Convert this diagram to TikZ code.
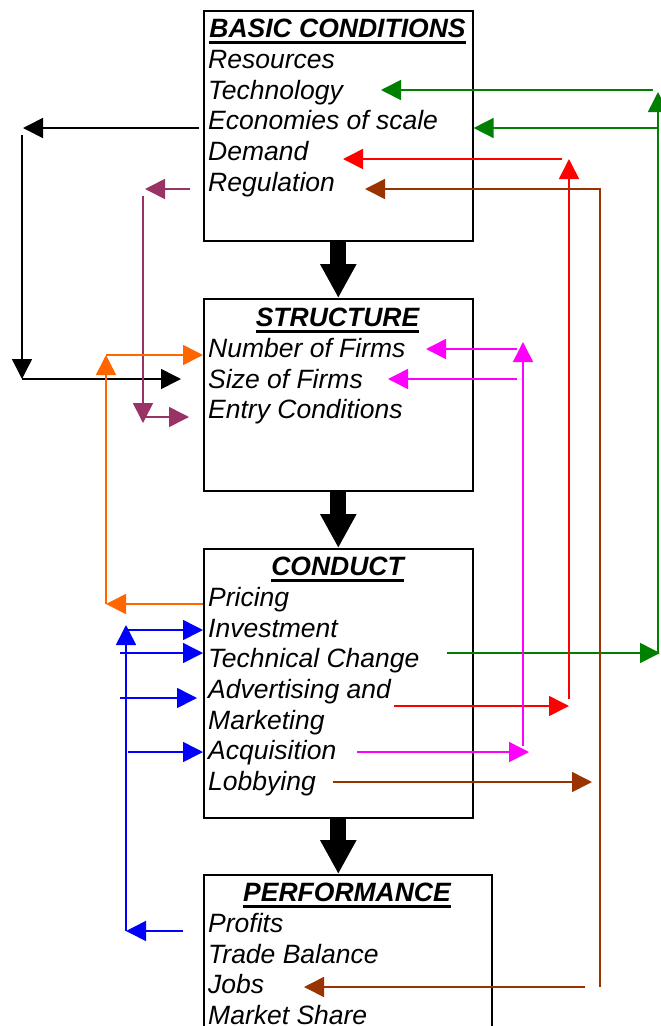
\documentclass[tikz,border=0pt]{standalone}
\usepackage{fontspec}
\setmainfont{Liberation Sans}
\usetikzlibrary{arrows.meta,positioning}
\definecolor{cgreen}{HTML}{008000}
\definecolor{cred}{HTML}{FF0000}
\definecolor{cbrown}{HTML}{993300}
\definecolor{cmagenta}{HTML}{FF00FF}
\definecolor{cblue}{HTML}{0000FF}
\definecolor{corange}{HTML}{FF6600}
\definecolor{cplum}{HTML}{993366}
\tikzset{
  box/.style={draw,line width=1.6pt,anchor=north west,inner sep=0pt},
  head/.style={anchor=base,inner sep=0pt,font=\bfseries\itshape\fontsize{26.5}{30.7}\selectfont},
  item/.style={anchor=base west,inner sep=0pt,font=\itshape\fontsize{26.5}{30.7}\selectfont},
  link/.style={line width=1.6pt,-{Triangle[length=20pt,width=20pt]}},
  flow/.style={line width=16pt,-{Triangle[length=34pt,width=34pt]}}
}
\newcommand{\boxhead}[3]{\node[head] (#1) at (#2) {#3};
  \draw[line width=2.5pt] ([yshift=-5pt]#1.base west) -- ([yshift=-5pt]#1.base east);}

\begin{document}
\begin{tikzpicture}[x=1pt,y=-1pt]
  \useasboundingbox (0,0) rectangle (661,1026);
  \clip (0,0) rectangle (661,1026);
  % boxes
  \node[box,minimum width=269pt,minimum height=230pt] (basic) at (203,10) {};
  \node[box,minimum width=269pt,minimum height=192pt] (structure) at (203,298) {};
  \node[box,minimum width=269pt,minimum height=269pt] (conduct) at (203,548) {};
  \node[box,minimum width=288pt,minimum height=170pt] (perf) at (203,874) {};
  \draw[flow] (basic.south) -- (structure.north);
  \draw[flow] (structure.south) -- (conduct.north);
  \draw[flow] (conduct.south) -- (conduct.south |- perf.north);
  % texts
  \boxhead{bchead}{337.5,37.7}{BASIC CONDITIONS}
  \foreach \t [count=\i] in {Resources,Technology,Economies of scale,Demand,Regulation}
    \node[item] (bc\i) at (208,{37.7+30.7*\i}) {\t};
  \boxhead{sthead}{337.5,326.7}{STRUCTURE}
  \foreach \t [count=\i] in {Number of Firms,Size of Firms,Entry Conditions}
    \node[item] (st\i) at (208,{326.7+30.7*\i}) {\t};
  \boxhead{cdhead}{337.5,575.7}{CONDUCT}
  \foreach \t [count=\i] in {Pricing,Investment,Technical Change,Advertising and,Marketing,Acquisition,Lobbying}
    \node[item] (cd\i) at (208,{575.7+30.7*\i}) {\t};
  \boxhead{pfhead}{347,901.7}{PERFORMANCE}
  \foreach \t [count=\i] in {Profits,Trade Balance,Jobs,Market Share}
    \node[item] (pf\i) at (208,{901.7+30.7*\i}) {\t};
  % arrow ends
  \foreach \n/\x/\y in {ka/199/128,kb/23/128,kc/22/135,kd/22/379,ke/181/379,
      pa/190/189,pb/145/189,pc/143/196,pd/143/423,pe/145/417,pf/189/417,
      oa/106/604,ob/106/355,
      ba/183/931,bb/126/931,bc/126/625,bd/128/630,be/120/653,bf/120/698,bg/197/698,bh/128/752,
      ga/447/653,gb/660/653,gc/658/653,gd/658/92,ge/653/90,gf/381/90,gg/659/128,
      ra/394/706,rb/569/706,rc/569/699,rd/569/159,re/562/159,rf/343/159,
      wa/333/782,wb/592/782,wc/600/987,wd/365/189,we/585/987,wf/304/987,
      ma/357/752,mb/529/752,mc/523/746,md/523/342,me/517/349,mf/426/349,mg/517/379,mh/388/379}
    \coordinate (\n) at (\x,\y);
  % feedback arrows
  \draw[link] (ka) -- (kb);
  \draw[link] (kc) -- (kd);
  \draw[link] (kd) -- (ke);
  \draw[link,cplum] (pa) -- (pb);
  \draw[link,cplum] (pc) -- (pd);
  \draw[link,cplum] (pe) -- (pf);
  \draw[link,corange] (conduct.west |- oa) -- (oa);
  \draw[link,corange] (oa) -- (ob);
  \draw[link,corange] (ob) -- (ob -| structure.west);
  \draw[link,cblue] (ba) -- (bb);
  \draw[link,cblue] (bb) -- (bc);
  \draw[link,cblue] (bd) -- (bd -| conduct.west);
  \draw[link,cblue] (be) -- (be -| conduct.west);
  \draw[link,cblue] (bf) -- (bg);
  \draw[link,cblue] (bh) -- (bh -| conduct.west);
  \draw[link,cgreen] (ga) -- (gb);
  \draw[link,cgreen] (gc) -- (gd);
  \draw[link,cgreen] (ge) -- (gf);
  \draw[link,cgreen] (gg) -- (gg -| basic.east);
  \draw[link,cred] (ra) -- (rb);
  \draw[link,cred] (rc) -- (rd);
  \draw[link,cred] (re) -- (rf);
  \draw[link,cbrown] (wa) -- (wb);
  \draw[link,cbrown] (wc) |- (wd);
  \draw[link,cbrown] (we) -- (wf);
  \draw[link,cmagenta] (ma) -- (mb);
  \draw[link,cmagenta] (mc) -- (md);
  \draw[link,cmagenta] (me) -- (mf);
  \draw[link,cmagenta] (mg) -- (mh);
\end{tikzpicture}
\end{document}
